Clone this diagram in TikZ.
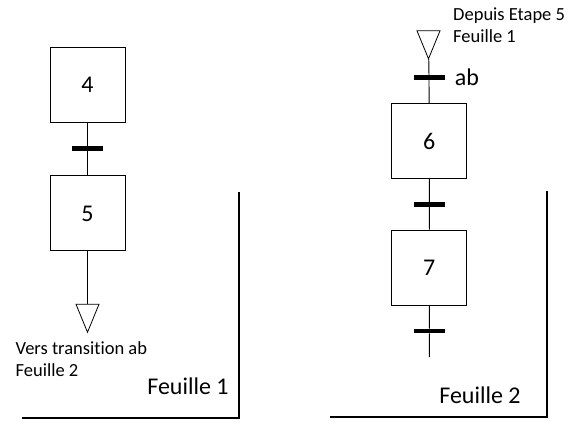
\documentclass[tikz,border=0pt]{standalone}
\usepackage{fontspec}
\setmainfont{Carlito}[Ligatures=NoCommon]
\usetikzlibrary{positioning,shapes.geometric}

\tikzset{
  etape/.style={draw, line width=0.9pt, minimum size=75pt, inner sep=0pt, font=\fontsize{24}{28}\selectfont},
  barre/.style={fill, minimum width=31pt, minimum height=4.5pt, inner sep=0pt},
  renvoi/.style={draw, line width=0.8pt, isosceles triangle, isosceles triangle stretches,
    shape border rotate=-90, minimum width=23pt, minimum height=28pt, inner sep=0pt},
  lien/.style={line width=0.9pt},
  feuille/.style={line width=2.2pt},
  note/.style={font=\fontsize{18.5}{22.5}\selectfont, align=left, inner sep=0pt},
  titre/.style={font=\fontsize{24}{28}\selectfont, inner sep=0pt},
}

\begin{document}
\begin{tikzpicture}[x=1pt, y=-1pt]
  \useasboundingbox (0,0) rectangle (575,434);

  % Feuille 1
  \node[etape] (e4) at (87.5,84.5) {4};
  \node[etape, below=53pt of e4] (e5) {5};
  \node[barre] (t45) at (87.5,148.7) {};
  \node[renvoi, below=52.5pt of e5] (r5) {};
  \node[note, anchor=north west] (n5) at (15.5,341) {Vers transition ab\\Feuille 2};
  \draw[lien] (e4) -- (t45) -- (e5);
  \draw[lien] (e5) -- (r5);
  \draw[feuille] (22,418) -| (239,192);
  \node[titre] (f1) at (188,386) {Feuille 1};

  % Feuille 2
  \node[renvoi] (r6) at (428.5,38.5) {};
  \node[note, anchor=north west] (n6) at (453,7.5) {Depuis Etape 5\\Feuille 1};
  \node[barre] (tab) at (429,77.7) {};
  \node[titre, right=10pt of tab] (lab) {ab};
  \node[etape] (e6) at (429.3,141) {6};
  \node[barre] (t67) at (429.3,204.3) {};
  \node[etape] (e7) at (429.3,267.5) {7};
  \node[barre] (t7) at (429.3,331) {};
  \coordinate (fin) at (429.3,357);
  \draw[lien] (r6) -- (tab) -- (e6) -- (t67) -- (e7) -- (t7) -- (fin);
  \draw[feuille] (330,417) -| (547,191);
  \node[titre] (f2) at (480,395) {Feuille 2};
\end{tikzpicture}
\end{document}
